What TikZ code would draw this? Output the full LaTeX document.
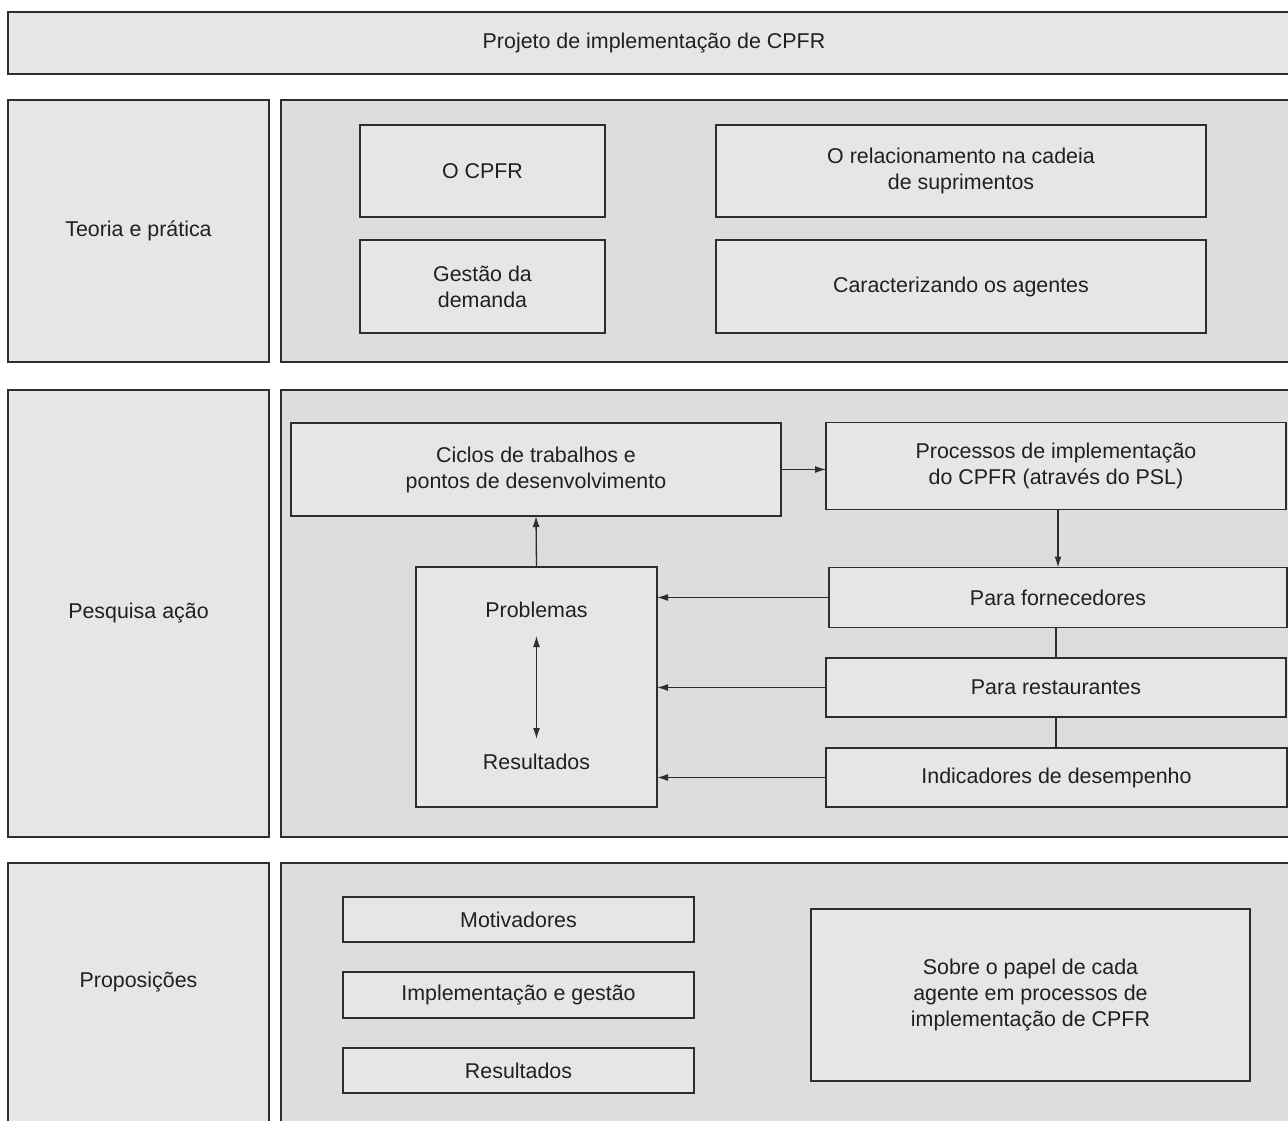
\documentclass[tikz,border=0pt]{standalone}
\usepackage{fontspec}
\setmainfont{Liberation Sans}
\usepackage{xcolor}
\usepackage{tikz}
\usetikzlibrary{arrows.meta, positioning}

\definecolor{boxgray}{HTML}{E5E6E8}
\definecolor{panelgray}{HTML}{DCDDDF}
\definecolor{linegray}{HTML}{2E2E2E}
\definecolor{textgray}{HTML}{231F20}

\begin{document}
\begin{tikzpicture}[
    x=1pt, y=-1pt,
    box/.style={rectangle, draw=linegray, fill=boxgray, line width=1.5pt, inner sep=0pt, outer sep=0pt, align=center, text=textgray, font=\fontsize{21.4}{26}\selectfont},
    panel/.style={box, fill=panelgray},
    txt/.style={inner sep=0pt, outer sep=0pt, align=center, text=textgray, font=\fontsize{21.4}{26}\selectfont},
    arrow/.style={-{Latex[length=11pt, width=7pt]}, line width=1.3pt, draw=linegray},
    link/.style={line width=1.3pt, draw=linegray},
]

\useasboundingbox (0,0) rectangle (1288,1121);
\fill[white] (0,0) rectangle (1288,1121);
\clip (0,0) rectangle (1288,1121);

% Title
\node[box, minimum width=1292pt, minimum height=62pt] (title) at (654,43) {Projeto de implementação de CPFR};

% Row 1: Teoria e pratica
\node[box, minimum width=261pt, minimum height=262pt] (teoria) at (138.5,231) {Teoria e prática};
\node[panel, minimum width=1019pt, minimum height=262pt] (panelA) at (790.5,231) {};
\node[box, minimum width=245pt, minimum height=92pt] (cpfr) at (482.5,171) {O CPFR};
\node[box, minimum width=490pt, minimum height=92pt] (rel) at (961,171) {O relacionamento na cadeia\\de suprimentos};
\node[box, minimum width=245pt, minimum height=93pt, below=23pt of cpfr] (gestao) {Gestão da\\demanda};
\node[box, minimum width=490pt, minimum height=93pt, below=23pt of rel] (agentes) {Caracterizando os agentes};

% Row 2: Pesquisa acao
\node[box, minimum width=261pt, minimum height=447pt] (pesquisa) at (138.5,613.5) {Pesquisa ação};
\node[panel, minimum width=1019pt, minimum height=447pt] (panelB) at (790.5,613.5) {};
\node[box, minimum width=490pt, minimum height=93pt] (ciclos) at (536,469.5) {Ciclos de trabalhos e\\pontos de desenvolvimento};
\node[box, minimum width=460pt, minimum height=87pt] (processos) at (1056,466) {Processos de implementação\\do CPFR (através do PSL)};
\node[box, minimum width=458pt, minimum height=60pt] (fornec) at (1058,597.5) {Para fornecedores};
\node[box, minimum width=460pt, minimum height=59pt] (rest) at (1056,687.5) {Para restaurantes};
\node[box, minimum width=461pt, minimum height=59pt] (indic) at (1056.5,777.5) {Indicadores de desempenho};
\node[box, minimum width=241pt, minimum height=240pt] (probl) at (536.5,687) {};
\node[txt] (problt) at (536.5,610) {Problemas};
\node[txt] (resultt) at (536.5,762) {Resultados};

% Row 3: Proposicoes
\node[box, minimum width=261pt, minimum height=267pt] (prop) at (138.5,996.5) {};
\node[txt] (propt) at (138.5,982) {Proposições};
\node[panel, minimum width=1019pt, minimum height=267pt] (panelC) at (790.5,996.5) {};
\node[box, minimum width=351pt, minimum height=45pt] (motiv) at (518.5,919.5) {Motivadores};
\node[box, minimum width=351pt, minimum height=46pt, below=30pt of motiv] (impl) {Implementação e gestão};
\node[box, minimum width=351pt, minimum height=45pt, below=30pt of impl] (resul) {Resultados};
\node[box, minimum width=439pt, minimum height=172pt] (sobre) at (1030.5,995) {Sobre o papel de cada\\agente em processos de\\implementação de CPFR};

% connectors
\draw[arrow] (ciclos.east) -- (ciclos.east -| processos.west);
\draw[arrow] (processos.south -| fornec.north) -- (fornec.north);
\draw[link] (fornec.south -| rest.north) -- (rest.north);
\draw[link] (rest.south) -- (indic.north -| rest.south);
\draw[arrow] (fornec.west) -- (fornec.west -| probl.east);
\draw[arrow] (rest.west) -- (rest.west -| probl.east);
\draw[arrow] (indic.west) -- (indic.west -| probl.east);
\draw[arrow] (probl.north) -- (ciclos.south);
\draw[arrow, {Latex[length=11pt, width=7pt]}-{Latex[length=11pt, width=7pt]}, shorten <=26pt, shorten >=23pt] (problt.center) -- (resultt.center);

\end{tikzpicture}
\end{document}
